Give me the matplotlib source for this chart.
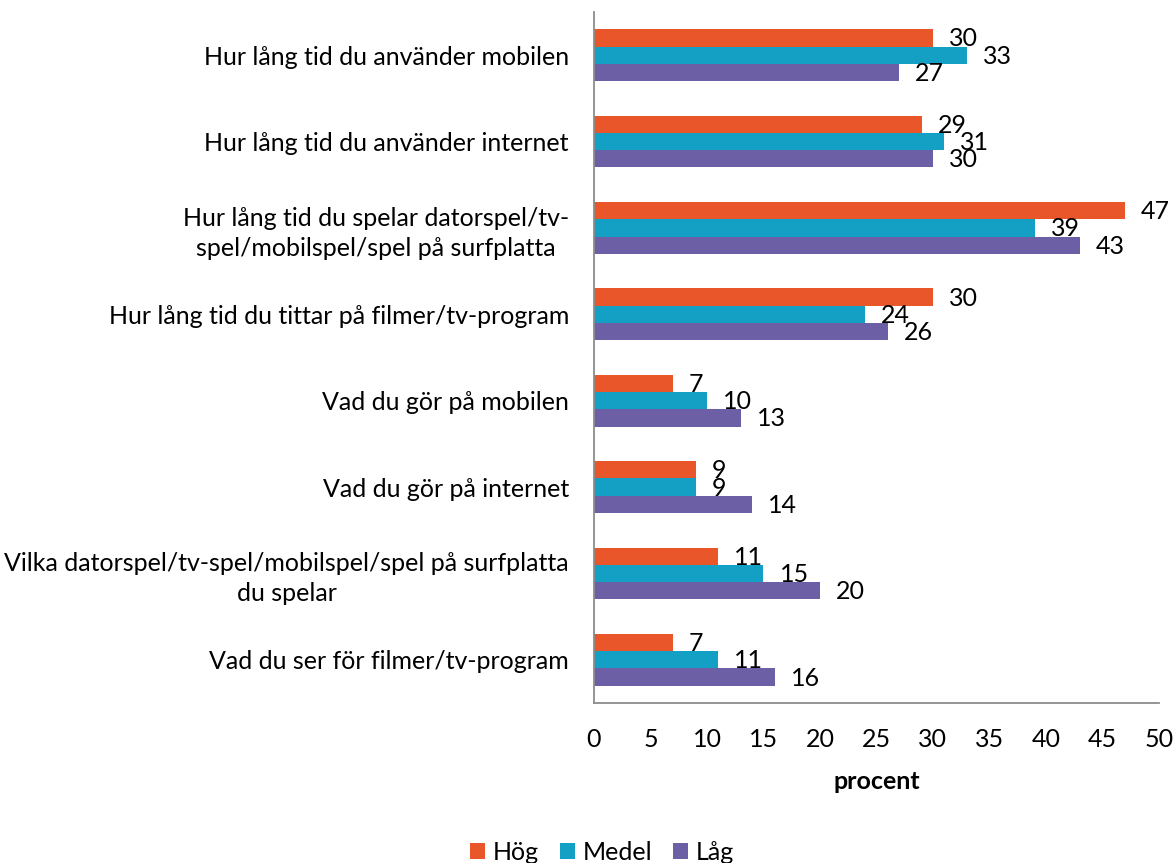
import matplotlib.pyplot as plt
import numpy as np

plt.rcParams['font.family'] = ['Lato', 'DejaVu Sans']

# Frågor (uppifrån och ned) och andel i procent per grupp
kategorier = [
    'Hur lång tid du använder mobilen',
    'Hur lång tid du använder internet',
    'Hur lång tid du spelar datorspel/tv-\nspel/mobilspel/spel på surfplatta',
    'Hur lång tid du tittar på filmer/tv-program',
    'Vad du gör på mobilen',
    'Vad du gör på internet',
    'Vilka datorspel/tv-spel/mobilspel/spel på surfplatta\ndu spelar',
    'Vad du ser för filmer/tv-program',
]
hog = [30, 29, 47, 30, 7, 9, 11, 7]
medel = [33, 31, 39, 24, 10, 9, 15, 11]
lag = [27, 30, 43, 26, 13, 14, 20, 16]

serier = ['Hög', 'Medel', 'Låg']
farger = ['#E9562A', '#149FC4', '#6C5FA5']

fs = 18

fig = plt.figure(figsize=(11.76, 8.63), dpi=100)
ax = fig.add_axes([0.5051, 0.1854, 0.4804, 0.8007])

y = np.arange(len(kategorier))
h = 0.2
for i, (namn, varden, farg) in enumerate(zip(serier, [hog, medel, lag], farger)):
    pos = y + (i - 1) * h
    ax.barh(pos, varden, height=h, color=farg, label=namn)
    for p, v in zip(pos, varden):
        ax.annotate(str(v), (v, p), xytext=(16, -1), textcoords='offset pixels',
                    ha='left', va='center', fontsize=fs)

ax.set_ylim(len(kategorier) - 0.5, -0.5)
ax.set_xlim(0, 50)
ax.set_xticks(range(0, 51, 5))
ax.set_yticks(y)
ax.set_yticklabels(kategorier, fontsize=fs, multialignment='center', linespacing=1.35)
ax.tick_params(axis='y', length=0, pad=18)
ax.tick_params(axis='x', length=0, pad=18, labelsize=fs)
ax.set_xlabel('procent', fontsize=fs, fontweight='bold', labelpad=14)

for s in ['top', 'right']:
    ax.spines[s].set_visible(False)
for s in ['left', 'bottom']:
    ax.spines[s].set_color('#8C8C8C')
    ax.spines[s].set_linewidth(1.3)

fig.legend(loc='lower center', bbox_to_anchor=(0.512, -0.027), ncol=3, frameon=False,
           fontsize=fs, handlelength=0.6, handleheight=0.6, handletextpad=0.3,
           columnspacing=0.85)

fig.savefig('out.png', dpi=100)
